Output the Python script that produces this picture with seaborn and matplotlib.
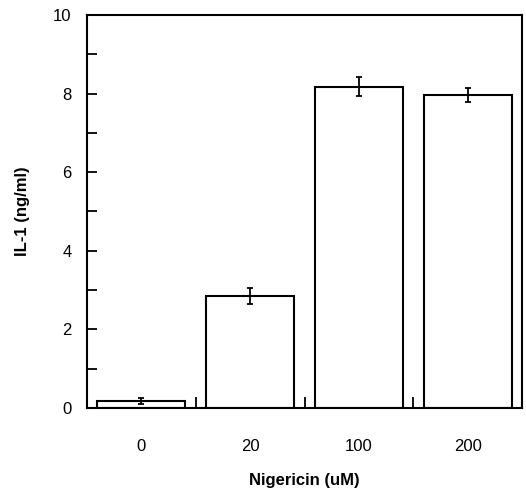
import numpy as np
import pandas as pd
import matplotlib
matplotlib.use("Agg")
import matplotlib.pyplot as plt
import seaborn as sns

# values
doses = ["0", "20", "100", "200"]
il1 = [0.18, 2.85, 8.17, 7.96]
il1_err = [0.07, 0.20, 0.24, 0.17]

sns.set_style("ticks")
plt.rcParams['font.family'] = ['Liberation Sans', 'DejaVu Sans']
plt.rcParams.update({"text.color": "black", "axes.labelcolor": "black",
                     "xtick.color": "black", "ytick.color": "black"})

df = pd.DataFrame({"dose": doses, "il1": il1})

fig = plt.figure(figsize=(5.26, 4.91), dpi=100)
ax = fig.add_axes([0.1654, 0.169, 0.827, 0.8005])

sns.barplot(data=df, x="dose", y="il1", order=doses, color="white",
            edgecolor="black", linewidth=1.5, width=0.81, errorbar=None,
            saturation=1, ax=ax)
ax.errorbar(np.arange(len(doses)), il1, yerr=il1_err, fmt="none",
            ecolor="black", elinewidth=1.3, capsize=2.5, capthick=1.3)

ax.set_xlim(-0.5, 3.5)
ax.set_ylim(0, 10)
ax.set_yticks([0, 2, 4, 6, 8, 10])
ax.set_yticks([1, 3, 5, 7, 9], minor=True)
ax.set_xticks([0.5, 1.5, 2.5], minor=True)

for s in ax.spines.values():
    s.set_visible(True)
    s.set_color("black")
    s.set_linewidth(1.5)

ax.tick_params(axis="y", which="both", direction="in", length=7, width=1.3,
               labelsize=12, pad=11)
ax.tick_params(axis="x", which="major", length=0, labelsize=12, pad=22)
ax.tick_params(axis="x", which="minor", direction="in", length=8, width=1.3)

ax.set_xlabel("Nigericin (uM)", fontsize=12, fontweight="bold", labelpad=14)
ax.set_ylabel("IL-1 (ng/ml)", fontsize=12, fontweight="bold", labelpad=17)

fig.savefig("out.png", dpi=100)
